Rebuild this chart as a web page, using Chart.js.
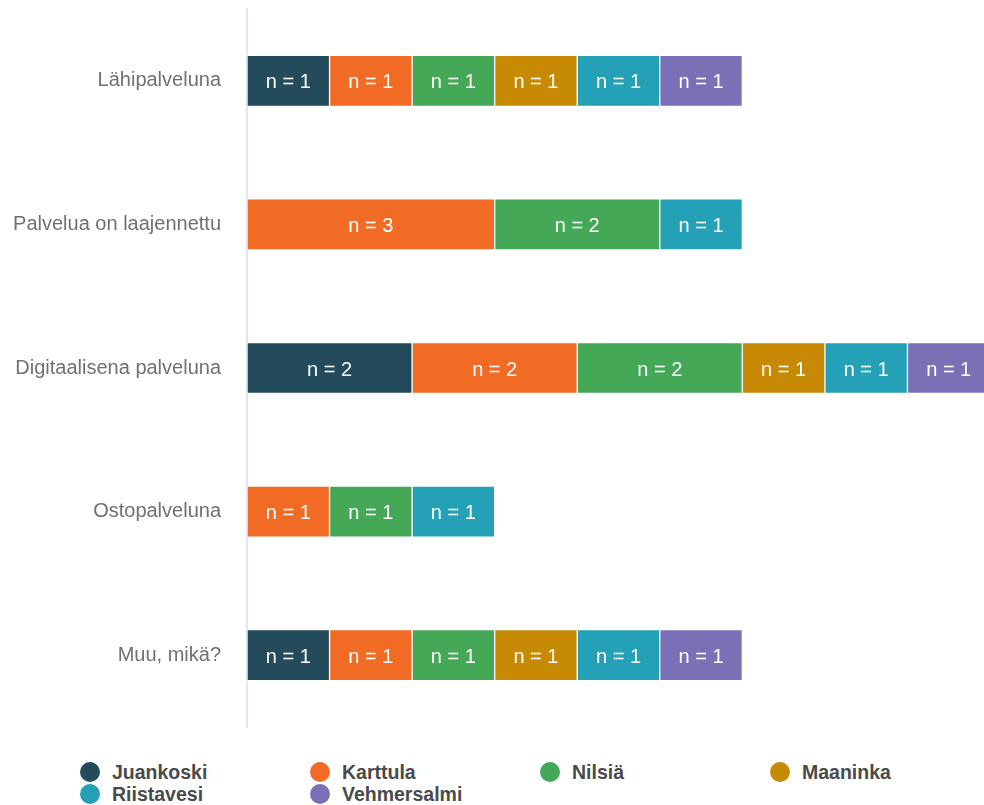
<!DOCTYPE html>
<html>
<head>
  <meta charset="UTF-8">
  <title>Palvelut</title>
  <script src="https://cdn.jsdelivr.net/npm/chart.js@4.4.1/dist/chart.umd.min.js"></script>
  <style>
    body { margin: 0; overflow: hidden; background: #fff; font-family: "Liberation Sans", Arial, sans-serif; }
    .chartBox { position: absolute; left: 0; top: 0; width: 990px; height: 736px; }
    .legend { position: absolute; left: 80px; top: 761px; display: grid; grid-template-columns: repeat(4, 230px); }
    .legend div { display: flex; align-items: center; height: 22px; font-weight: bold; font-size: 19.5px; color: #4a4a4a; }
    .legend span { width: 20px; height: 20px; border-radius: 50%; margin-right: 12px; flex: none; }
  </style>
</head>
<body>

<div class="chartBox">
  <canvas id="myChart"></canvas>
</div>
<div class="legend" id="legend"></div>

<script>
const categories = ['Lähipalveluna', 'Palvelua on laajennettu', 'Digitaalisena palveluna', 'Ostopalveluna', 'Muu, mikä?'];
const seriesNames = ['Juankoski', 'Karttula', 'Nilsiä', 'Maaninka', 'Riistavesi', 'Vehmersalmi'];
const juankoski = [1, 0, 2, 0, 1];
const karttula = [1, 3, 2, 1, 1];
const nilsia = [1, 2, 2, 1, 1];
const maaninka = [1, 0, 1, 0, 1];
const riistavesi = [1, 1, 1, 1, 1];
const vehmersalmi = [1, 0, 1, 0, 1];
const colors = ['#234b5b', '#f26b25', '#44a856', '#c68a04', '#24a1b6', '#7a70b6'];

const values = [juankoski, karttula, nilsia, maaninka, riistavesi, vehmersalmi];

const datasets = seriesNames.map((name, i) => ({
  label: name,
  data: values[i],
  backgroundColor: colors[i],
  borderColor: '#ffffff',
  borderWidth: 1,
  borderSkipped: false,
  barThickness: 51
}));

// "n = x" labels inside bars
const barLabels = {
  id: 'barLabels',
  afterDatasetsDraw(chart) {
    const ctx = chart.ctx;
    ctx.save();
    ctx.font = '20px "Liberation Sans", Arial, sans-serif';
    ctx.fillStyle = '#ffffff';
    ctx.textAlign = 'center';
    ctx.textBaseline = 'middle';
    chart.data.datasets.forEach((ds, i) => {
      chart.getDatasetMeta(i).data.forEach((bar, j) => {
        const v = ds.data[j];
        if (!v) return;
        ctx.fillText('n = ' + v, (bar.x + bar.base) / 2, bar.y + 2);
      });
    });
    ctx.restore();
  }
};

const ctx = document.getElementById('myChart').getContext('2d');
const myChart = new Chart(ctx, {
  type: 'bar',
  data: {
    labels: categories,
    datasets: datasets
  },
  plugins: [barLabels],
  options: {
    indexAxis: 'y',
    responsive: true,
    maintainAspectRatio: false,
    animation: false,
    layout: {
      padding: { top: 9, bottom: 9, left: 0, right: 0 }
    },
    scales: {
      x: {
        stacked: true,
        display: false,
        min: 0,
        max: 9
      },
      y: {
        stacked: true,
        afterFit: (scale) => { scale.width = 247; scale.paddingTop = 0; scale.paddingBottom = 0; },
        grid: { display: false, drawTicks: false },
        border: { display: true, color: '#dfe5f1', width: 2 },
        ticks: {
          padding: 26,
          color: '#707070',
          font: { family: '"Liberation Sans", Arial, sans-serif', size: 20 }
        }
      }
    },
    plugins: {
      legend: { display: false },
      tooltip: { enabled: false }
    }
  }
});

const legend = document.getElementById('legend');
seriesNames.forEach((name, i) => {
  const item = document.createElement('div');
  item.innerHTML = '<span style="background:' + colors[i] + '"></span>' + name;
  legend.appendChild(item);
});
</script>

</body>
</html>
